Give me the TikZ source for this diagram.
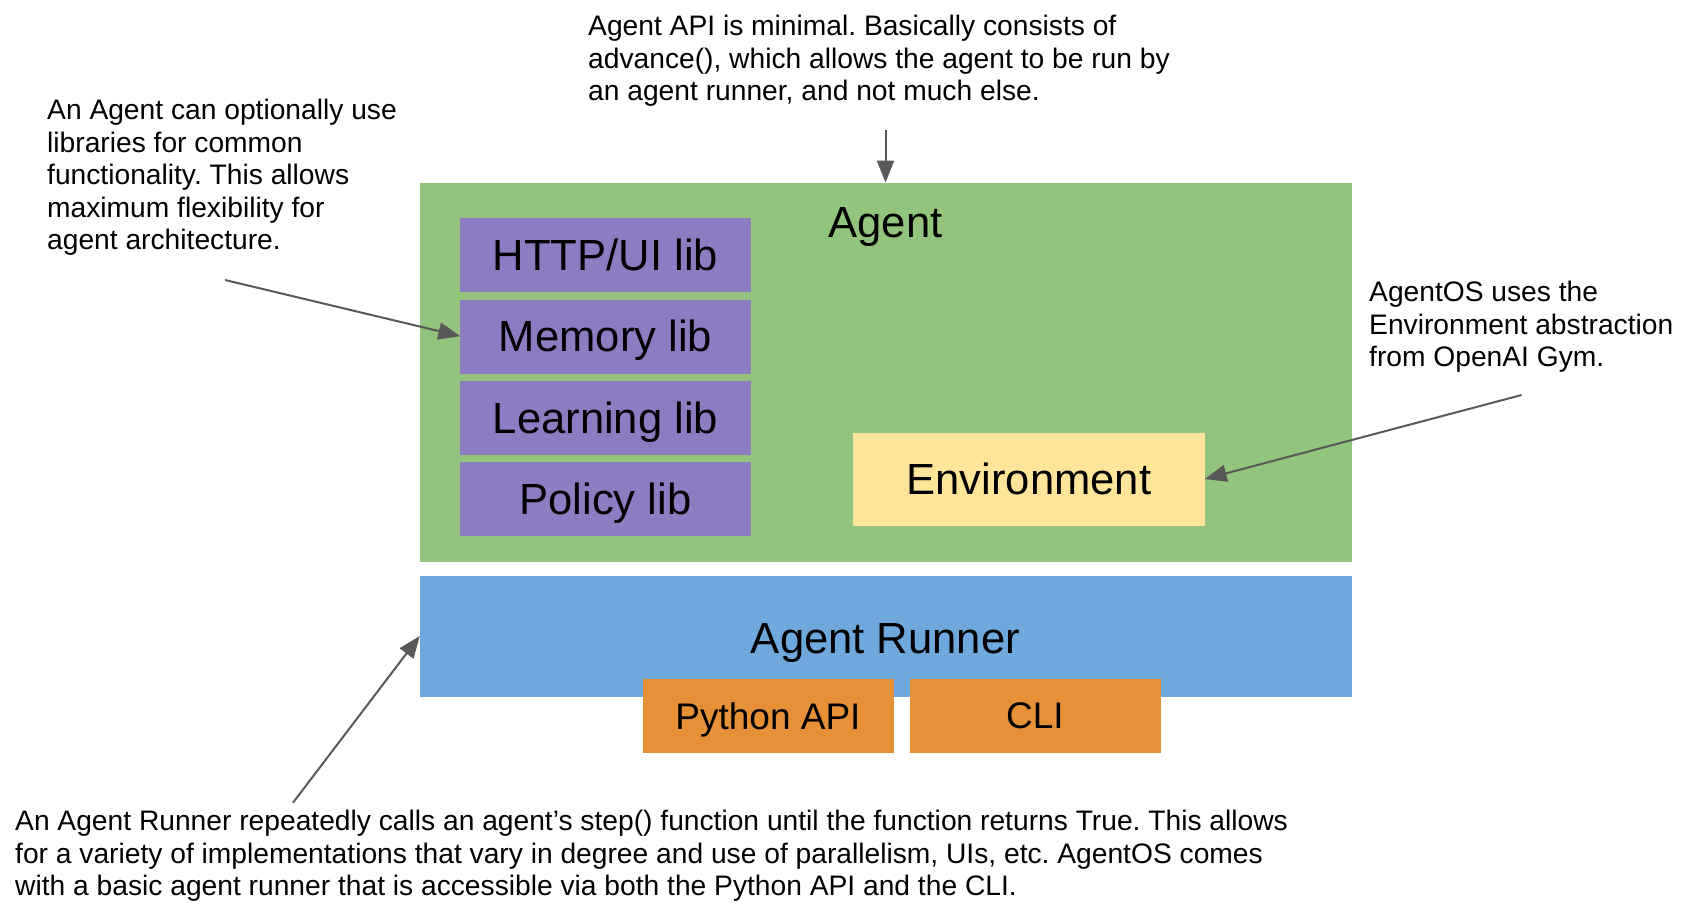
\documentclass[tikz,border=0pt]{standalone}
\usepackage{fontspec}
\setmainfont{Liberation Sans}
\usetikzlibrary{positioning,arrows.meta}
\definecolor{agentgreen}{HTML}{93C47D}
\definecolor{libpurple}{HTML}{8E7CC3}
\definecolor{runnerblue}{HTML}{6FA8DC}
\definecolor{apiorange}{HTML}{E69138}
\definecolor{envyellow}{HTML}{FFE599}
\definecolor{arrowgray}{HTML}{595959}
\frenchspacing

\begin{document}
\begin{tikzpicture}[x=1pt,y=-1pt,>={Triangle[length=22pt,width=17pt]},
    box/.style={draw=#1,fill=#1,inner sep=0pt,text depth=0pt,font=\fontsize{43.6}{50}\selectfont},
    libbox/.style={box=libpurple,minimum width=290pt,minimum height=73pt},
    apibox/.style={box=apiorange,minimum width=250pt,minimum height=73pt,font=\fontsize{37}{42}\selectfont},
    note/.style={anchor=north west,align=left,inner sep=0pt,font=\fontsize{28.2}{32.5}\selectfont},
    pointer/.style={draw=arrowgray,line width=2pt,->}]
    \useasboundingbox (0,0) rectangle (1687,915);

    \node[box=agentgreen,minimum width=931pt,minimum height=378pt] (agent) at (885.5,371.8) {};
    \node[inner sep=0pt,text depth=0pt,font=\fontsize{43.6}{50}\selectfont] (agentlabel) at (885.5,222.5) {Agent};
    \node[libbox] (http) at (605.5,254.8) {HTTP/UI lib};
    \foreach \lib/\name [remember=\name as \prev (initially http)] in {Memory/memory,Learning/learning,Policy/policy}
        \node[libbox,below=8pt of \prev] (\name) {\lib\ lib};
    \node[box=envyellow,minimum width=351pt,minimum height=92.6pt] (env) at (1029,479) {Environment};

    \node[box=runnerblue,minimum width=931pt,minimum height=120pt] (runner) at (885.5,636) {};
    \node[inner sep=0pt,text depth=0pt,font=\fontsize{43.6}{50}\selectfont] (runnerlabel) at (885.5,638) {Agent Runner};
    \node[apibox] (pyapi) at (768,716) {Python API};
    \node[apibox,right=16.5pt of pyapi] (cli) {CLI};

    \node[note] (apinote) at (588,15) {Agent API is minimal. Basically consists of\\advance(), which allows the agent to be run by\\an agent runner, and not much else.};
    \node[note] (libnote) at (47,99) {An Agent can optionally use\\libraries for common\\functionality. This allows\\maximum flexibility for\\agent architecture.};
    \node[note] (envnote) at (1369,281) {AgentOS uses the\\Environment abstraction\\from OpenAI Gym.};
    \node[note] (runnernote) at (15,810) {An Agent Runner repeatedly calls an agent’s step() function until the function returns True. This allows\\for a variety of implementations that vary in degree and use of parallelism, UIs, etc. AgentOS comes\\with a basic agent runner that is accessible via both the Python API and the CLI.};

    \coordinate (apitail) at (885.5,130);
    \coordinate (libtail) at (225,280);
    \coordinate (envtail) at (1521.6,395);
    \coordinate (runnertail) at (293,802.7);
    \draw[pointer] (apitail) -- (agent.north);
    \draw[pointer] (libtail) -- (memory.west);
    \draw[pointer] (envtail) -- (env.east);
    \draw[pointer] (runnertail) -- (runner.west);
\end{tikzpicture}
\end{document}
